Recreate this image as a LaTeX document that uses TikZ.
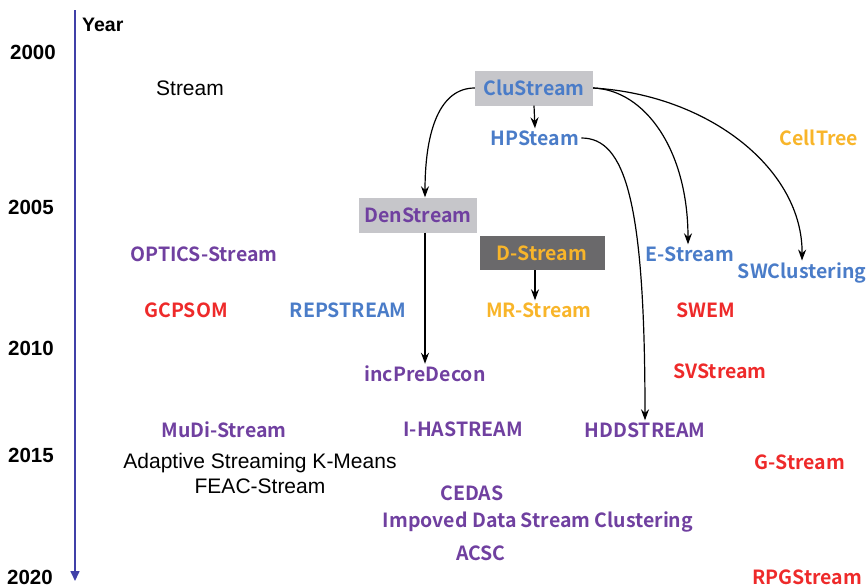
\documentclass[tikz,border=0pt]{standalone}
\usepackage{fontspec}
\setmainfont{Liberation Sans}
\newfontfamily\cnb{Noto Sans CJK SC Bold}
\usetikzlibrary{arrows.meta}
\definecolor{axisblue}{HTML}{4040A8}
\definecolor{cblue}{HTML}{4A7CC8}
\definecolor{corange}{HTML}{F8B52A}
\definecolor{cpurple}{HTML}{7040A0}
\definecolor{cred}{HTML}{EE2A2A}
\definecolor{lgray}{HTML}{C6C6CA}
\definecolor{dgray}{HTML}{6A696B}
\tikzset{
  alg/.style={font=\cnb\fontsize{19.5}{22}\selectfont, inner sep=2pt},
  plain/.style={font=\fontsize{21}{24}\selectfont, inner sep=1pt, align=center},
  yr/.style={font=\bfseries\fontsize{20.5}{23}\selectfont, inner sep=1pt},
  lbox/.style={alg, fill=lgray, minimum width=118pt, minimum height=35pt},
  dbox/.style={alg, fill=dgray, minimum width=125pt, minimum height=34pt},
  link/.style={-{Stealth[length=11pt,width=8pt]}, line width=1.2pt, black},
}
\begin{document}
\begin{tikzpicture}[x=1pt,y=-1pt]
\useasboundingbox (0,0) rectangle (868,587);
% axis
\coordinate (axtop) at (75,10);
\coordinate (axbot) at (75,581);
\draw[axisblue, line width=1.6pt, -{Triangle[length=10pt,width=9pt]}] (axtop) -- (axbot);
\node[yr, anchor=west, font=\bfseries\fontsize{19.5}{22}\selectfont] (year) at (81,25) {Year};
\node[yr] (y2000) at (33,52) {2000};
\node[yr] (y2005) at (31,207) {2005};
\node[yr] (y2010) at (31,348) {2010};
\node[yr] (y2015) at (31,455) {2015};
\node[yr] (y2020) at (30,577) {2020};
% boxes
\node[lbox, text=cblue] (clu) at (534,88) {CluStream};
\node[lbox, text=cpurple] (den) at (418,215) {DenStream};
\node[dbox, text=corange] (dst) at (542,253) {D-Stream};
% algorithm labels
\node[plain] (stream) at (190,88) {Stream};
\node[alg, text=cblue] (hp) at (535,138) {HPSteam};
\node[alg, text=corange] (cell) at (819,138) {CellTree};
\node[alg, text=cpurple] (optics) at (204,254) {OPTICS-Stream};
\node[alg, text=cblue] (estr) at (690,254) {E-Stream};
\node[alg, text=cblue] (swc) at (802,273) {SWClustering};
\node[alg, text=cred] (gcp) at (186,310) {GCPSOM};
\node[alg, text=cblue] (rep) at (348,310) {REPSTREAM};
\node[alg, text=corange] (mr) at (539,310) {MR-Stream};
\node[alg, text=cred] (swem) at (706,310) {SWEM};
\node[alg, text=cpurple] (inc) at (425,374) {incPreDecon};
\node[alg, text=cred] (sv) at (720,371) {SVStream};
\node[alg, text=cpurple] (mudi) at (224,430) {MuDi-Stream};
\node[alg, text=cpurple] (ihas) at (463,429) {I-HASTREAM};
\node[alg, text=cpurple] (hdd) at (645,430) {HDDSTREAM};
\node[alg, text=cred] (gs) at (800,462) {G-Stream};
\node[plain] (ask) at (260,463) {Adaptive Streaming K-Means};
\node[plain] (feac) at (260,486) {FEAC-Stream};
\node[alg, text=cpurple] (cedas) at (472,493) {CEDAS};
\node[alg, text=cpurple] (idsc) at (538,522) {Impoved Data Stream Clustering};
\node[alg, text=cpurple] (acsc) at (481,553) {ACSC};
\node[alg, text=cred] (rpg) at (807,577) {RPGStream};
% connectors
\draw[link] (clu.west) .. controls (440,88) and (425,130) .. (den.north -| 425,0);
\draw[link] (clu.south) -- (hp.north);
\draw[link] (clu.east) .. controls (645,90) and (688,150) .. (estr.north -| 688,0);
\draw[link] (clu.east) .. controls (710,95) and (803,170) .. (swc.north);
\draw[link] (hp.east) .. controls (625,138) and (645,200) .. (hdd.north);
\draw[link] (den.south -| 425,0) -- (inc.north);
\draw[link] (dst.south -| 535,0) -- (mr.north -| 535,0);
\end{tikzpicture}
\end{document}
